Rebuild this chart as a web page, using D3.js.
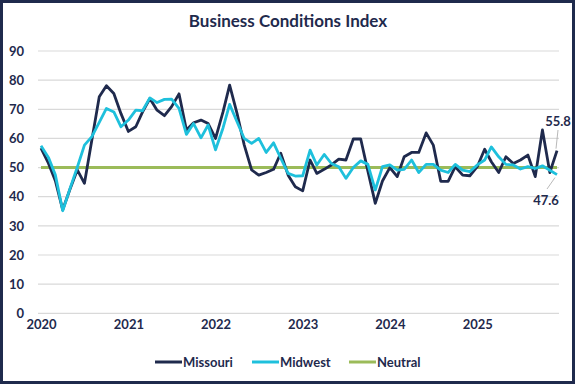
<!DOCTYPE html>
<html>
<head>
<meta charset="utf-8">
<title>Business Conditions Index</title>
<script src="https://d3js.org/d3.v7.min.js"></script>
<style>
  body { margin: 0; background: #fff; }
  svg { display: block; font-family: Lato, "Open Sans", sans-serif; }
</style>
</head>
<body>
<div id="chart"></div>
<script>
// monthly readings, Jan 2020 .. Dec 2025
var missouri = [
  56.7, 51.5, 45.5, 35.5, 42.5, 49.2, 44.6, 59.5, 74.3, 78.1, 75.4, 68.5,
  62.4, 64.0, 69.0, 73.7, 69.7, 67.8, 70.9, 75.3, 62.9, 65.4, 66.3, 65.1,
  60.0, 69.0, 78.3, 68.6, 57.8, 49.2, 47.4, 48.3, 49.4, 54.9, 47.4, 43.4,
  42.0, 52.6, 48.0, 49.4, 50.9, 52.9, 52.6, 59.8, 59.8, 48.8, 37.7, 45.4,
  50.0, 46.9, 53.7, 55.2, 55.2, 61.9, 57.7, 45.3, 45.3, 50.3, 47.4, 47.2,
  50.3, 56.3, 52.0, 48.3, 53.7, 51.4, 52.6, 54.3, 46.9, 62.9, 48.3, 55.8
];
var midwest = [
  57.5, 53.5, 47.5, 35.2, 42.7, 50.1, 57.7, 60.6, 65.5, 70.3, 69.1, 64.0,
  66.3, 69.7, 69.5, 73.9, 72.3, 73.4, 73.5, 70.3, 61.4, 65.1, 60.2, 64.6,
  56.1, 63.5, 71.7, 65.7, 60.0, 58.3, 60.0, 55.2, 58.5, 53.2, 48.0, 47.1,
  47.2, 56.0, 50.9, 54.5, 51.4, 50.3, 46.3, 50.0, 52.3, 51.1, 42.3, 50.3,
  50.9, 49.1, 49.4, 52.6, 48.3, 51.1, 51.1, 49.1, 48.3, 51.1, 49.1, 48.6,
  50.9, 52.6, 57.1, 53.7, 51.1, 50.9, 49.5, 50.3, 49.7, 50.6, 49.1, 47.6
];
var neutral = 50;
var yearLabels = ["2020", "2021", "2022", "2023", "2024", "2025"];
var yTicks = [0, 10, 20, 30, 40, 50, 60, 70, 80, 90];

var W = 575, H = 384;
var navy = "#1f2a4d", cyan = "#1ec0dc", green = "#9bbb59";

var months = missouri.map(function(d, i) { return new Date(2020, i, 1); });

var x = d3.scaleTime()
  .domain([months[0], months[months.length - 1]])
  .range([41, 557]);
var y = d3.scaleLinear().domain([0, 90]).range([313.3, 51]);

var svg = d3.select("#chart").append("svg")
  .attr("width", W).attr("height", H);

svg.append("rect")
  .attr("x", 1.5).attr("y", 1.5)
  .attr("width", W - 3).attr("height", H - 3)
  .attr("fill", "#fff").attr("stroke", navy).attr("stroke-width", 3);

svg.append("text")
  .attr("x", 288).attr("y", 27)
  .attr("text-anchor", "middle")
  .attr("font-size", "17px").attr("font-weight", "bold")
  .attr("fill", navy)
  .text("Business Conditions Index");

// gridlines + y labels
svg.append("g").selectAll("line")
  .data(yTicks).enter().append("line")
  .attr("x1", 38).attr("x2", 559)
  .attr("y1", function(d) { return y(d); })
  .attr("y2", function(d) { return y(d); })
  .attr("stroke", "#d9d9d9").attr("stroke-width", 1.2);

var yAxis = svg.append("g")
  .attr("transform", "translate(24,0)")
  .call(d3.axisLeft(y).tickValues(yTicks).tickSize(0).tickPadding(0));
yAxis.select(".domain").remove();
yAxis.selectAll("text")
  .attr("font-family", "Lato, sans-serif")
  .attr("font-size", "13px").attr("font-weight", "bold").attr("fill", navy);

var xAxis = svg.append("g")
  .attr("transform", "translate(0,320)")
  .call(d3.axisBottom(x)
    .tickValues(yearLabels.map(function(s) { return new Date(+s, 0, 1); }))
    .tickFormat(d3.timeFormat("%Y"))
    .tickSize(0).tickPadding(0));
xAxis.select(".domain").remove();
xAxis.selectAll("text")
  .attr("font-family", "Lato, sans-serif")
  .attr("font-size", "13px").attr("font-weight", "bold").attr("fill", navy);

// neutral line
svg.append("line")
  .attr("x1", x(months[0])).attr("x2", x(months[months.length - 1]))
  .attr("y1", y(neutral)).attr("y2", y(neutral))
  .attr("stroke", green).attr("stroke-width", 3);

var line = d3.line()
  .x(function(d, i) { return x(months[i]); })
  .y(function(d) { return y(d); });

svg.append("path").datum(missouri)
  .attr("d", line).attr("fill", "none")
  .attr("stroke", navy).attr("stroke-width", 2.8)
  .attr("stroke-linejoin", "round");

svg.append("path").datum(midwest)
  .attr("d", line).attr("fill", "none")
  .attr("stroke", cyan).attr("stroke-width", 2.8)
  .attr("stroke-linejoin", "round");

// end labels with leader lines
var last = months.length - 1;
var lx = x(months[last]);
svg.append("line")
  .attr("x1", lx + 1).attr("y1", 130)
  .attr("x2", lx - 1).attr("y2", y(missouri[last]) - 2)
  .attr("stroke", "#a6a6a6").attr("stroke-width", 0.8);
svg.append("text")
  .attr("x", lx + 1).attr("y", 126)
  .attr("text-anchor", "middle")
  .attr("font-size", "13px").attr("font-weight", "bold").attr("fill", navy)
  .text(missouri[last].toFixed(1));

svg.append("line")
  .attr("x1", lx - 2).attr("y1", y(midwest[last]) + 3)
  .attr("x2", lx - 10).attr("y2", 189)
  .attr("stroke", "#a6a6a6").attr("stroke-width", 0.8);
svg.append("text")
  .attr("x", lx - 11).attr("y", 205)
  .attr("text-anchor", "middle")
  .attr("font-size", "13px").attr("font-weight", "bold").attr("fill", navy)
  .text(midwest[last].toFixed(1));

// legend
var legendItems = [
  { name: "Missouri", color: navy, x: 155 },
  { name: "Midwest", color: cyan, x: 252 },
  { name: "Neutral", color: green, x: 349 }
];
var lg = svg.append("g").selectAll("g")
  .data(legendItems).enter().append("g")
  .attr("transform", function(d) { return "translate(" + d.x + ",362)"; });
lg.append("line")
  .attr("x1", 0).attr("x2", 27)
  .attr("stroke", function(d) { return d.color; })
  .attr("stroke-width", 3);
lg.append("text")
  .attr("x", 28).attr("y", 5)
  .attr("font-size", "13px").attr("font-weight", "bold").attr("fill", navy)
  .text(function(d) { return d.name; });
</script>
</body>
</html>
